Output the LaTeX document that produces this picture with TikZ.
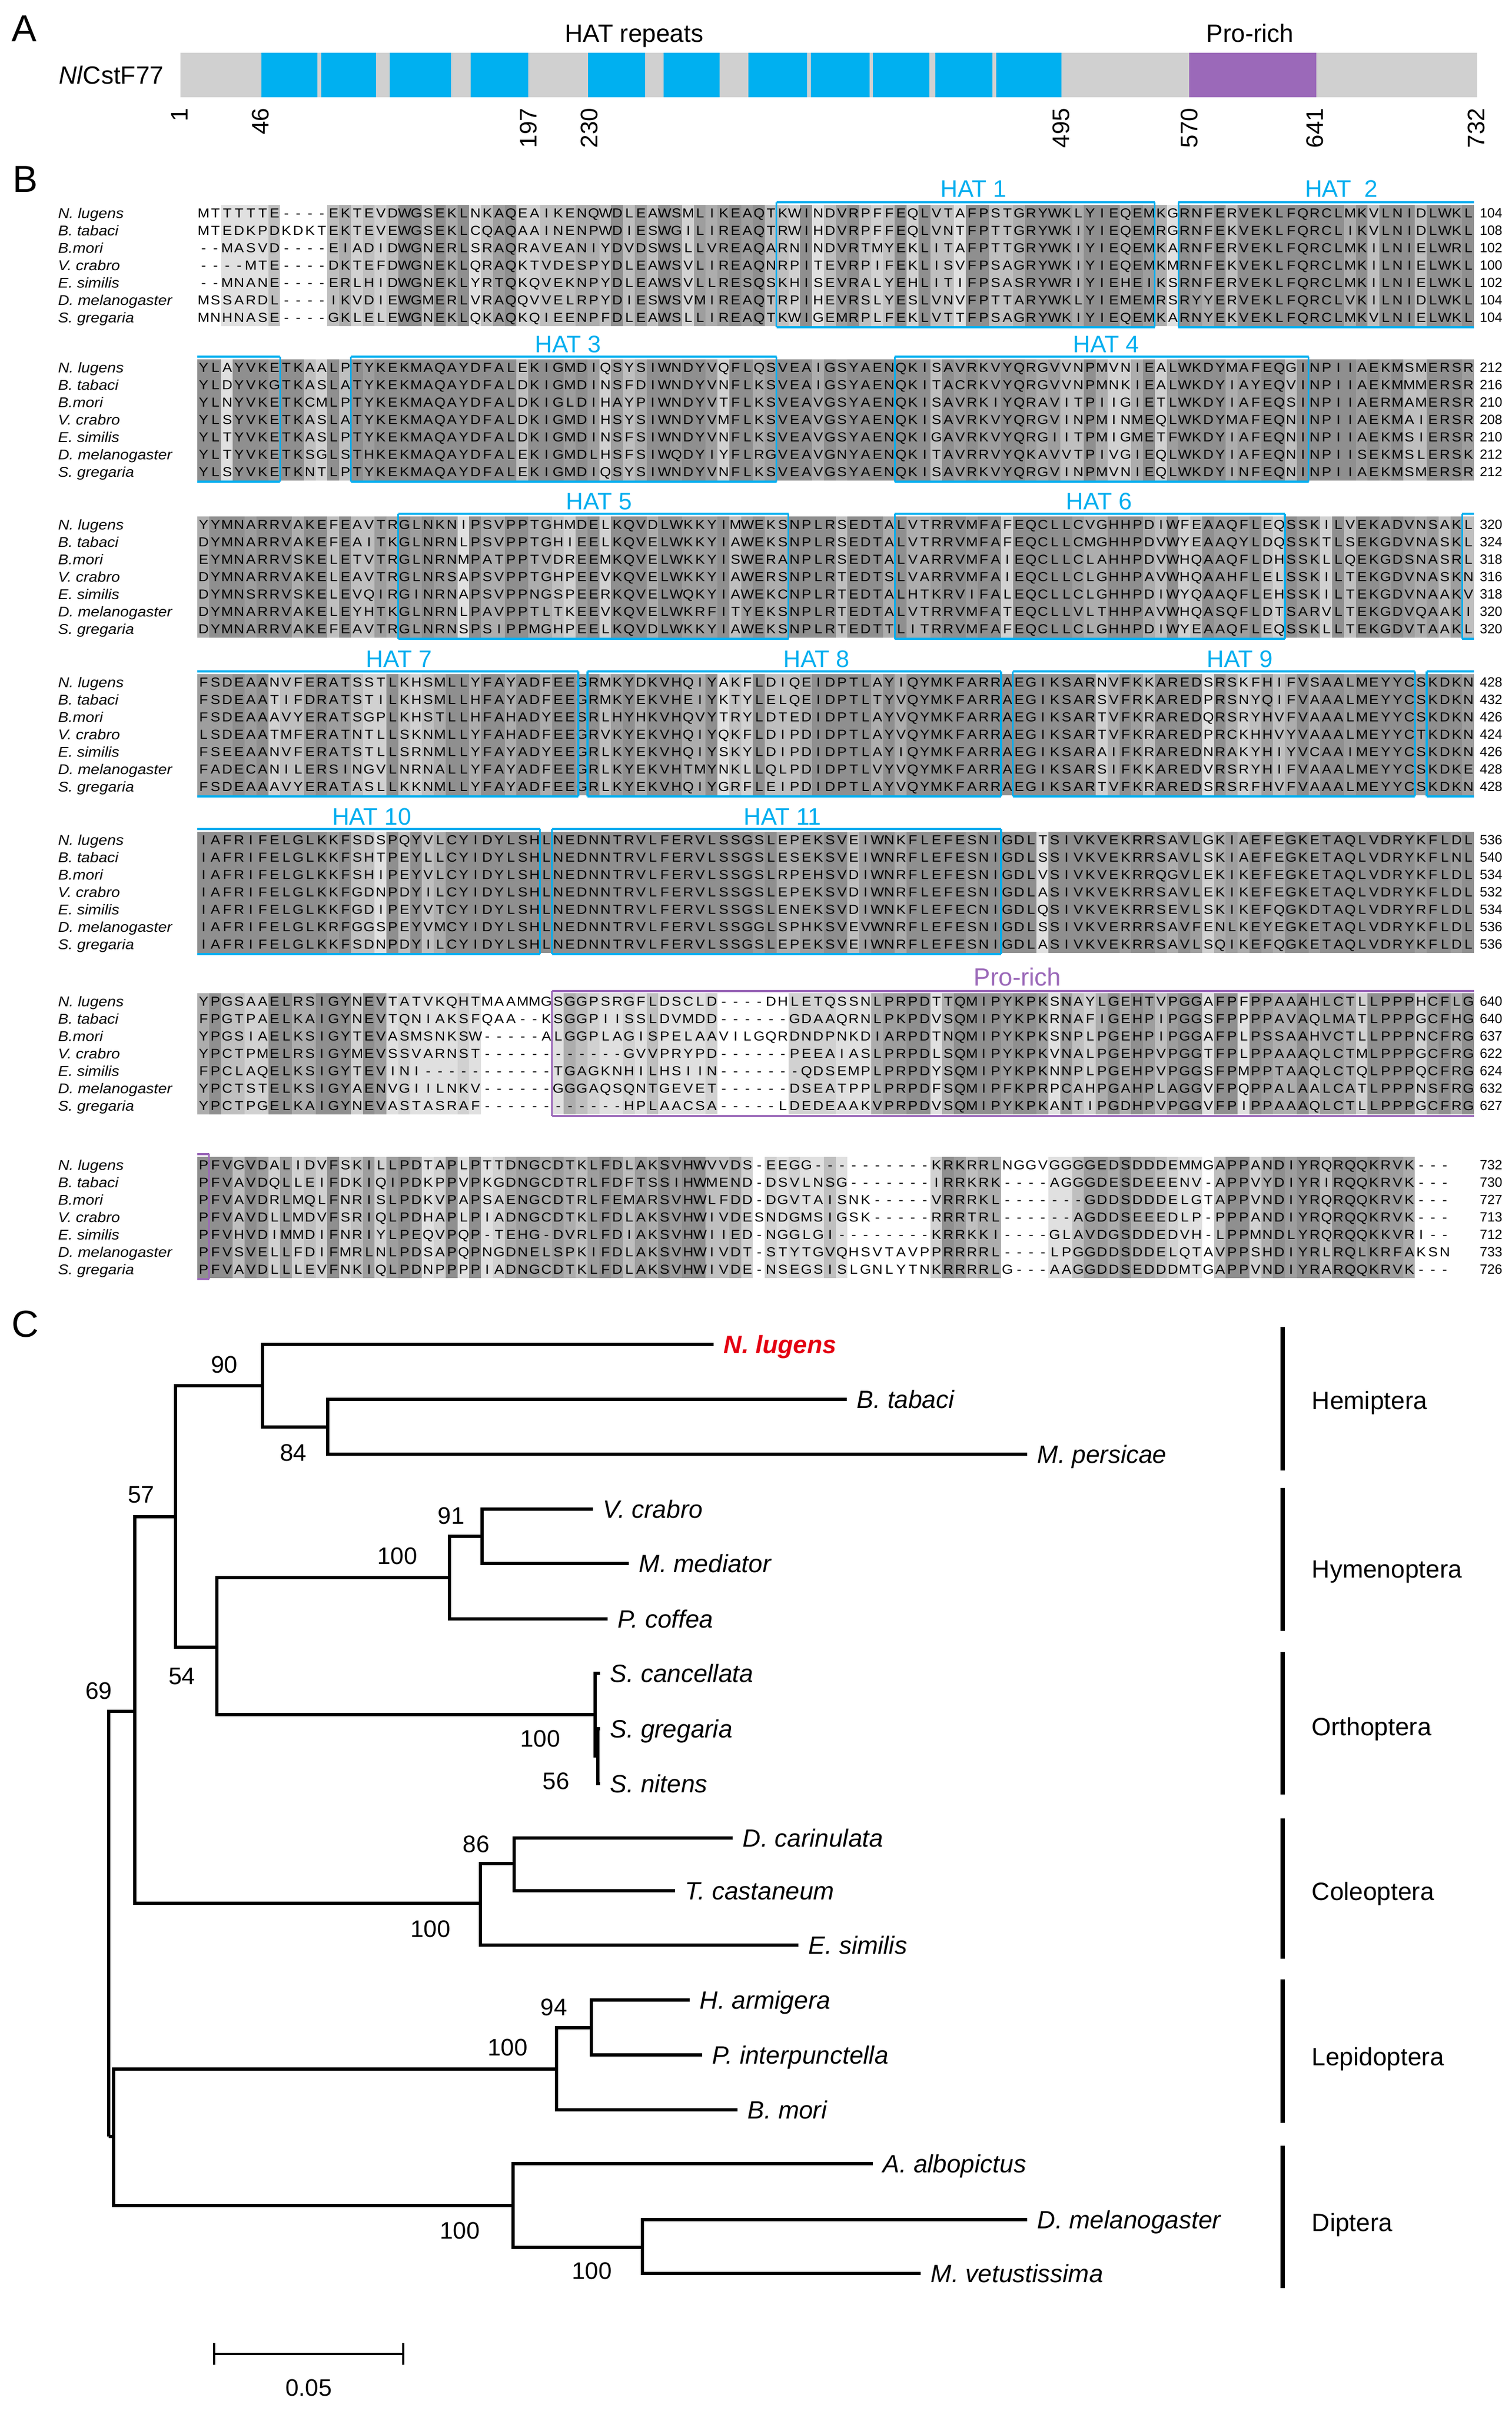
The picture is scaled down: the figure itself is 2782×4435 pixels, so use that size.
\documentclass[tikz,border=0pt]{standalone}
\usepackage{fontspec}
\setmainfont{Liberation Sans}
\newfontfamily\seqfont[FakeStretch=1.1]{Liberation Sans}
\newfontfamily\labfont[FakeStretch=1.1]{Liberation Sans}
\definecolor{hatblue}{RGB}{0,174,239}
\definecolor{barblue}{RGB}{0,176,240}
\definecolor{propurple}{RGB}{155,105,185}
\definecolor{bargrey}{RGB}{208,208,208}
\definecolor{nlred}{RGB}{228,0,18}
\definecolor{alshade7}{gray}{0.56}
\definecolor{alshade6}{gray}{0.62}
\definecolor{alshade5}{gray}{0.68}
\definecolor{alshade4}{gray}{0.75}
\definecolor{alshade3}{gray}{0.82}
\definecolor{alshade2}{gray}{0.88}

\ExplSyntaxOn
\int_new:N \g__al_len_int
\int_new:N \l__al_c_int
\int_new:N \l__al_max_int
\int_new:N \l__al_cnt_int
\int_new:N \l__al_gap_int
\tl_new:N \l__al_a_tl
\tl_new:N \l__al_b_tl
\tl_const:Nn \c__al_gap_tl { - }
\cs_new_protected:Npn \AlRow #1 #2
  {
    \int_zero:N \l__al_c_int
    \tl_map_inline:nn {#2}
      {
        \int_incr:N \l__al_c_int
        \tl_gclear_new:c { g__al_ #1 _ \int_use:N \l__al_c_int _tl }
        \tl_gset:cn { g__al_ #1 _ \int_use:N \l__al_c_int _tl } {##1}
      }
    \int_gset_eq:NN \g__al_len_int \l__al_c_int
  }
\cs_new_protected:Npn \AlShade #1
  {
    \int_step_inline:nn { \g__al_len_int }
      {
        \int_zero:N \l__al_max_int
        \int_zero:N \l__al_gap_int
        \int_step_inline:nn { 7 }
          {
            \tl_set_eq:Nc \l__al_a_tl { g__al_ ####1 _ ##1 _tl }
            \tl_if_eq:NNTF \l__al_a_tl \c__al_gap_tl
              { \int_incr:N \l__al_gap_int }
              {
                \int_zero:N \l__al_cnt_int
                \int_step_inline:nn { 7 }
                  {
                    \tl_set_eq:Nc \l__al_b_tl { g__al_ ########1 _ ##1 _tl }
                    \tl_if_eq:NNT \l__al_a_tl \l__al_b_tl
                      { \int_incr:N \l__al_cnt_int }
                  }
                \int_compare:nNnT { \l__al_cnt_int } > { \l__al_max_int }
                  { \int_set_eq:NN \l__al_max_int \l__al_cnt_int }
              }
          }
        \int_compare:nNnTF { \l__al_gap_int } > { 2 }
          { \int_zero:N \l__al_max_int }
          {
            \int_compare:nNnT { \l__al_max_int } < { 2 }
              { \int_set:Nn \l__al_max_int { 2 } }
          }
        \exp_args:NnV \AlCell { ##1 } \l__al_max_int { #1 }
      }
  }
\cs_new_protected:Npn \AlText #1
  {
    \int_step_inline:nn { \g__al_len_int }
      {
        \hbox_to_wd:nn { 5.4375pt } { \hss \tl_use:c { g__al_ #1 _ ##1 _tl } \hss }
      }
  }
\ExplSyntaxOff

\newcommand\AlCell[3]{\ifnum#2>1\relax\fill[alshade#2] ({363+(#1-1)*21.75},{#3}) rectangle +(21.95,223);\fi}
\newcommand\AlDraw[1]{%
  \AlShade{#1-15.5}%
  \foreach \rr in {1,...,7}{%
    \node[seqrow] (s#1-\rr) at (363,{#1+(\rr-1)*32+8.6}) {\AlText{\rr}};
  }%
}
\newcommand\AlLabels[2]{%
  \foreach \nm [count=\ii] in {N. lugens,B. tabaci,B.mori,V. crabro,E. similis,D. melanogaster,S. gregaria}{%
    \node[splab] (sp#1-\ii) at (106,{#1+(\ii-1)*32+9.3}) {\nm};}%
  \foreach \nn [count=\ii] in {#2}{%
    \node[numlab] (nu#1-\ii) at (2722,{#1+(\ii-1)*32+8.9}) {\nn};}%
}
\newcommand\HatBox[6]{%
  \draw[line width=0.8pt,#1] (#2,{#4+210}) -- (#3,{#4+210});
  \ifnum#5=1 \draw[line width=0.8pt,#1] (#2,{#4+210}) -- (#2,{#4-20});\fi
  \ifnum#6=1 \draw[line width=0.8pt,#1] (#3,{#4+210}) -- (#3,{#4-20});\fi
  \draw[line width=1.1pt,#1] (#2,{#4-20}) -- (#3,{#4-20});}

\tikzset{
  seqrow/.style={anchor=base west, inner sep=0pt, font=\seqfont\fontsize{6}{7}\selectfont},
  splab/.style={anchor=base west, inner sep=0pt, font=\labfont\itshape\fontsize{6.5}{7.5}\selectfont},
  numlab/.style={anchor=base west, inner sep=0pt, font=\fontsize{6.2}{7}\selectfont},
  hatlab/.style={anchor=base, inner sep=0pt, text=hatblue, font=\fontsize{11}{13}\selectfont},
  prolab/.style={anchor=base, inner sep=0pt, text=propurple, font=\fontsize{11.5}{13}\selectfont},
  panlab/.style={anchor=base west, inner sep=0pt, font=\fontsize{17.3}{20}\selectfont},
  atext/.style={inner sep=0pt, font=\fontsize{11.5}{13}\selectfont},
  posnum/.style={rotate=90, anchor=east, inner sep=0pt, font=\fontsize{11}{13}\selectfont},
  br/.style={line width=1.4pt},
  tlab/.style={anchor=base west, inner sep=0pt, font=\itshape\fontsize{11.5}{13}\selectfont},
  boot/.style={inner sep=0pt, font=\fontsize{11}{13}\selectfont},
  ordlab/.style={anchor=base west, inner sep=0pt, font=\fontsize{11.5}{13}\selectfont},
  ordbar/.style={line width=2.2pt},
}

\begin{document}
\begin{tikzpicture}[x=0.25pt,y=-0.25pt]
\fill[white] (0,0) rectangle (2782,4435);
\useasboundingbox (0,0) rectangle (2782,4435);

%% ---------------- Panel A ----------------
\node[panlab] (labA) at (21,76) {A};
\node[atext, anchor=base] (hatrep) at (1167,77) {HAT repeats};
\node[atext, anchor=base] (proA) at (2300,77) {Pro-rich};
\fill[bargrey] (332,97) rectangle (2718,179);
\foreach \a/\b in {481/584,591/692,717/830,866/972,1082/1187,1221/1324,1377/1485,1492/1600,1606/1710,1721/1826,1833/1953}
  \fill[barblue] (\a,97) rectangle (\b,179);
\fill[propurple] (2188,97) rectangle (2422,179);
\node[atext, anchor=base east] (protname) at (302,154.5) {\textit{Nl}CstF77};
\foreach \p/\t in {330/1,479/46,972/197,1084/230,1952/495,2188/570,2419/641,2716/732}
  \node[posnum] (pos\t) at (\p,198) {\t};

%% ---------------- Panel B ----------------
\node[panlab] (labB) at (23,353) {B};

% Block 1
\AlRow{1}{MTTTTTE----EKTEVDWGSEKLNKAQEAIKENQWDLEAWSMLIKEAQTKWINDVRPFFEQLVTAFPSTGRYWKLYIEQEMKGRNFERVEKLFQRCLMKVLNIDLWKL}
\AlRow{2}{MTEDKPDKDKTEKTEVEWGSEKLCQAQAAINENPWDIESWGILIREAQTRWIHDVRPFFEQLVNTFPTTGRYWKIYIEQEMRGRNFEKVEKLFQRCLIKVLNIDLWKL}
\AlRow{3}{--MASVD----EIADIDWGNERLSRAQRAVEANIYDVDSWSLLVREAQARNINDVRTMYEKLITAFPTTGRYWKIYIEQEMKARNFERVEKLFQRCLMKILNIELWRL}
\AlRow{4}{----MTE----DKTEFDWGNEKLQRAQKTVDESPYDLEAWSVLIREAQNRPITEVRPIFEKLISVFPSAGRYWKIYIEQEMKMRNFEKVEKLFQRCLMKILNIELWKL}
\AlRow{5}{--MNANE----ERLHIDWGNEKLYRTQKQVEKNPYDLEAWSVLLRESQSKHISEVRALYEHLITIFPSASRYWRIYIEHEIKSRNFERVEKLFQRCLMKILNIELWKL}
\AlRow{6}{MSSARDL----IKVDIEWGMERLVRAQQVVELRPYDIESWSVMIREAQTRPIHEVRSLYESLVNVFPTTARYWKLYIEMEMRSRYYERVEKLFQRCLVKILNIDLWKL}
\AlRow{7}{MNHNASE----GKLELEWGNEKLQKAQKQIEENPFDLEAWSLLIREAQTKWIGEMRPLFEKLVTTFPSAGRYWKIYIEQEMKARNYEKVEKLFQRCLMKVLNIELWKL}
\AlDraw{392}
\AlLabels{392}{104,108,102,100,102,104,104}
\HatBox{hatblue}{1428.75}{2124.75}{392}{1}{1}
\HatBox{hatblue}{2168.25}{2712}{392}{1}{0}
\node[hatlab] (hat1) at (1791,362) {HAT 1};
\node[hatlab] (hat2) at (2468,362) {HAT\ \ 2};

% Block 2
\AlRow{1}{YLAYVKETKAALPTYKEKMAQAYDFALEKIGMDIQSYSIWNDYVQFLQSVEAIGSYAENQKISAVRKVYQRGVVNPMVNIEALWKDYMAFEQGINPIIAEKMSMERSR}
\AlRow{2}{YLDYVKGTKASLATYKEKMAQAYDFALDKIGMDINSFDIWNDYVNFLKSVEAIGSYAENQKITACRKVYQRGVVNPMNKIEALWKDYIAYEQVINPIIAEKMMMERSR}
\AlRow{3}{YLNYVKETKCMLPTYKEKMAQAYDFALDKIGLDIHAYPIWNDYVTFLKSVEAVGSYAENQKISAVRKIYQRAVITPIIGIETLWKDYIAFEQSINPIIAERMAMERSR}
\AlRow{4}{YLSYVKETKASLATYKEKMAQAYDFALDKIGMDIHSYSIWNDYVMFLKSVEAVGSYAENQKISAVRKVYQRGVINPMINMEQLWKDYMAFEQNINPIIAEKMAIERSR}
\AlRow{5}{YLTYVKETKASLPTYKEKMAQAYDFALDKIGMDINSFSIWNDYVNFLKSVEAVGSYAENQKIGAVRKVYQRGIITPMIGMETFWKDYIAFEQNINPIIAEKMSIERSR}
\AlRow{6}{YLTYVKETKSGLSTHKEKMAQAYDFALEKIGMDLHSFSIWQDYIYFLRGVEAVGNYAENQKITAVRRVYQKAVVTPIVGIEQLWKDYIAFEQNINPIISEKMSLERSK}
\AlRow{7}{YLSYVKETKNTLPTYKEKMAQAYDFALEKIGMDIQSYSIWNDYVNFLKSVEAVGSYAENQKISAVRKVYQRGVINPMVNIEQLWKDYINFEQNINPIIAEKMSMERSR}
\AlDraw{676}
\AlLabels{676}{212,216,210,208,210,212,212}
\HatBox{hatblue}{363}{515.25}{676}{0}{1}
\HatBox{hatblue}{645.75}{1428.75}{676}{1}{1}
\HatBox{hatblue}{1646.25}{2407.5}{676}{1}{1}
\node[hatlab] (hat3) at (1045,648) {HAT 3};
\node[hatlab] (hat4) at (2035,648) {HAT 4};

% Block 3
\AlRow{1}{YYMNARRVAKEFEAVTRGLNKNIPSVPPTGHMDELKQVDLWKKYIMWEKSNPLRSEDTALVTRRVMFAFEQCLLCVGHHPDIWFEAAQFLEQSSKILVEKADVNSAKL}
\AlRow{2}{DYMNARRVAKEFEAITKGLNRNLPSVPPTGHIEELKQVELWKKYIAWEKSNPLRSEDTALVTRRVMFAFEQCLLCMGHHPDVWYEAAQYLDQSSKTLSEKGDVNASKL}
\AlRow{3}{EYMNARRVSKELETVTRGLNRNMPATPPTVDREEMKQVELWKKYISWERANPLRSEDTALVARRVMFAIEQCLLCLAHHPDVWHQAAQFLDHSSKLLQEKGDSNASRL}
\AlRow{4}{DYMNARRVAKELEAVTRGLNRSAPSVPPTGHPEEVKQVELWKKYIAWERSNPLRTEDTSLVARRVMFAIEQCLLCLGHHPAVWHQAAHFLELSSKILTEKGDVNASKN}
\AlRow{5}{DYMNSRRVSKELEVQIRGINRNAPSVPPNGSPEERKQVELWQKYIAWEKCNPLRTEDTALHTKRVIFALEQCLLCLGHHPDIWYQAAQFLEHSSKILTEKGDVNAAKV}
\AlRow{6}{DYMNARRVAKELEYHTKGLNRNLPAVPPTLTKEEVKQVELWKRFITYEKSNPLRTEDTALVTRRVMFATEQCLLVLTHHPAVWHQASQFLDTSARVLTEKGDVQAAKI}
\AlRow{7}{DYMNARRVAKEFEAVTRGLNRNSPSIPPMGHPEELKQVDLWKKYIAWEKSNPLRTEDTTLITRRVMFAFEQCLLCLGHHPDIWYEAAQFLEQSSKLLTEKGDVTAAKL}
\AlDraw{965}
\AlLabels{965}{320,324,318,316,318,320,320}
\HatBox{hatblue}{732.75}{1450.5}{965}{1}{1}
\HatBox{hatblue}{1646.25}{2364}{965}{1}{1}
\HatBox{hatblue}{2690.25}{2712}{965}{1}{0}
\node[hatlab] (hat5) at (1102,937) {HAT 5};
\node[hatlab] (hat6) at (2022,937) {HAT 6};

% Block 4
\AlRow{1}{FSDEAANVFERATSSTLKHSMLLYFAYADFEEGRMKYDKVHQIYAKFLDIQEIDPTLAYIQYMKFARRAEGIKSARNVFKKAREDSRSKFHIFVSAALMEYYCSKDKN}
\AlRow{2}{FSDEAATIFDRATSTILKHSMLLHFAYADFEEGRMKYEKVHEIYKTYLELQEIDPTLTYVQYMKFARRAEGIKSARSVFRKAREDPRSNYQIFVAAALMEYYCSKDKN}
\AlRow{3}{FSDEAAAVYERATSGPLKHSTLLHFAHADYEESRLHYHKVHQVYTRYLDTEDIDPTLAYVQYMKFARRAEGIKSARTVFKRAREDQRSRYHVFVAAALMEYYCSKDKN}
\AlRow{4}{LSDEAATMFERATNTLLSKNMLLYFAHADFEEGRVKYEKVHQIYQKFLDIPDIDPTLAYVQYMKFARRAEGIKSARTVFKRAREDPRCKHHVYVAAALMEYYCTKDKN}
\AlRow{5}{FSEEAANVFERATSTLLSRNMLLYFAYADYEEGRLKYEKVHQIYSKYLDIPDIDPTLAYIQYMKFARRAEGIKSARAIFKRAREDNRAKYHIYVCAAIMEYYCSKDKN}
\AlRow{6}{FADECANILERSINGVLNRNALLYFAYADFEEGRLKYEKVHTMYNKLLQLPDIDPTLVYVQYMKFARRAEGIKSARSIFKKAREDVRSRYHIFVAAALMEYYCSKDKE}
\AlRow{7}{FSDEAAAVYERATASLLKKNMLLYFAYADFEEGRLKYEKVHQIYGRFLEIPDIDPTLAYVQYMKFARRAEGIKSARTVFKRAREDSRSRFHVFVAAALMEYYCSKDKN}
\AlDraw{1255}
\AlLabels{1255}{428,432,426,424,426,428,428}
\HatBox{hatblue}{363}{1064}{1255}{0}{1}
\HatBox{hatblue}{1081}{1842}{1255}{1}{1}
\HatBox{hatblue}{1863.75}{2603.25}{1255}{1}{1}
\HatBox{hatblue}{2625}{2712}{1255}{1}{0}
\node[hatlab] (hat7) at (734,1227) {HAT 7};
\node[hatlab] (hat8) at (1502,1227) {HAT 8};
\node[hatlab] (hat9) at (2281,1227) {HAT 9};

% Block 5
\AlRow{1}{IAFRIFELGLKKFSDSPQYVLCYIDYLSHLNEDNNTRVLFERVLSSGSLEPEKSVEIWNKFLEFESNIGDLTSIVKVEKRRSAVLGKIAEFEGKETAQLVDRYKFLDL}
\AlRow{2}{IAFRIFELGLKKFSHTPEYLLCYIDYLSHLNEDNNTRVLFERVLSSGSLESEKSVEIWNRFLEFESNIGDLSSIVKVEKRRSAVLSKIAEFEGKETAQLVDRYKFLNL}
\AlRow{3}{IAFRIFELGLKKFSHIPEYVLCYIDYLSHLNEDNNTRVLFERVLSSGSLRPEHSVDIWNRFLEFESNIGDLVSIVKVEKRRQGVLEKIKEFEGKETAQLVDRYKFLDL}
\AlRow{4}{IAFRIFELGLKKFGDNPDYILCYIDYLSHLNEDNNTRVLFERVLSSGSLEPEKSVDIWNRFLEFESNIGDLASIVKVEKRRSAVLEKIKEFEGKETAQLVDRYKFLDL}
\AlRow{5}{IAFRIFELGLKKFGDIPEYVTCYIDYLSHLNEDNNTRVLFERVLSSGSLENEKSVDIWNKFLEFECNIGDLQSIVKVEKRRSEVLSKIKEFQGKDTAQLVDRYRFLDL}
\AlRow{6}{IAFRIFELGLKRFGGSPEYVMCYIDYLSHLNEDNNTRVLFERVLSSGGLSPHKSVEVWNRFLEFESNIGDLSSIVKVERRRSAVFENLKEYEGKETAQLVDRYKFLDL}
\AlRow{7}{IAFRIFELGLKKFSDNPDYILCYIDYLSHLNEDNNTRVLFERVLSSGSLEPEKSVEIWNRFLEFESNIGDLASIVKVEKRRSAVLSQIKEFQGKETAQLVDRYKFLDL}
\AlDraw{1545}
\AlLabels{1545}{536,540,534,532,534,536,536}
\HatBox{hatblue}{363}{993.75}{1545}{0}{1}
\HatBox{hatblue}{1015.5}{1842}{1545}{1}{1}
\node[hatlab] (hat10) at (684,1517) {HAT 10};
\node[hatlab] (hat11) at (1440,1517) {HAT 11};

% Block 6
\AlRow{1}{YPGSAAELRSIGYNEVTATVKQHTMAAMMGSGGPSRGFLDSCLD----DHLETQSSNLPRPDTTQMIPYKPKSNAYLGEHTVPGGAFPFPPAAAHLCTLLPPPHCFLG}
\AlRow{2}{FPGTPAELKAIGYNEVTQNIAKSFQAA--KSGGPIISSLDVMDD------GDAAQRNLPKPDVSQMIPYKPKRNAFIGEHPIPGGSFPPPPAVAQLMATLPPPGCFHG}
\AlRow{3}{YPGSIAELKSIGYTEVASMSNKSW-----ALGGPLAGISPELAAVILGQRDNDPNKDIARPDTNQMIPYKPKSNPLPGEHPIPGGAFPLPSSAAHVCTLLPPPNCFRG}
\AlRow{4}{YPCTPMELRSIGYMEVSSVARNST------------GVVPRYPD------PEEAIASLPRPDLSQMIPYKPKVNALPGEHPVPGGTFPLPPAAAQLCTMLPPPGCFRG}
\AlRow{5}{FPCLAQELKSIGYTEVINI-----------TGAGKNHILHSIIN-------QDSEMPLPRPDYSQMIPYKPKNNPLPGEHPVPGGSFPMPPTAAQLCTQLPPPQCFRG}
\AlRow{6}{YPCTSTELKSIGYAENVGIILNKV------GGGAQSQNTGEVET------DSEATPPLPRPDFSQMIPFKPRPCAHPGAHPLAGGVFPQPPALAALCATLPPPNSFRG}
\AlRow{7}{YPCTPGELKAIGYNEVASTASRAF------------HPLAACSA-----LDEDEAAKVPRPDVSQMIPYKPKANTIPGDHPVPGGVFPIPPAAAQLCTLLPPPGCFRG}
\AlDraw{1842}
\AlLabels{1842}{640,640,637,622,624,632,627}
\HatBox{propurple}{1015.5}{2712}{1843}{1}{0}
\node[prolab] (pro6) at (1872,1813) {Pro-rich};

% Block 7
\AlRow{1}{PFVGVDALIDVFSKILLPDTAPLPTTDNGCDTKLFDLAKSVHWVVDS-EEGG----------KRKRRLNGGVGGGGEDSDDDEMMGAPPANDIYRQRQQKRVK---}
\AlRow{2}{PFVAVDQLLEIFDKIQIPDKPPVPKGDNGCDTRLFDFTSSIHWMEND-DSVLNSG-------IRRKRK----AGGGDESDEEENV-APPVYDIYRIRQQKRVK---}
\AlRow{3}{PFVAVDRLMQLFNRISLPDKVPAPSAENGCDTRLFEMARSVHWLFDD-DGVTAISNK-----VRRRKL-------GDDSDDDELGTAPPVNDIYRQRQQKRVK---}
\AlRow{4}{PFVAVDLLMDVFSRIQLPDHAPLPIADNGCDTKLFDLAKSVHWIVDESNDGMSIGSK-----RRRTRL------AGDDSEEEDLP-PPPANDIYRQRQQKRVK---}
\AlRow{5}{PFVHVDIMMDIFNRIYLPEQVPQP-TEHG-DVRLFDIAKSVHWIIED-NGGLGI--------KRRKKI----GLAVDGSDDEDVH-LPPMNDLYRQRQQKKVRI--}
\AlRow{6}{PFVSVELLFDIFMRLNLPDSAPQPNGDNELSPKIFDLAKSVHWIVDT-STYTGVQHSVTAVPPRRRRL----LPGGDDSDDELQTAVPPSHDIYRLRQLKRFAKSN}
\AlRow{7}{PFVAVDLLLEVFNKIQLPDNPPPPIADNGCDTKLFDLAKSVHWIVDE-NSEGSISLGNLYTNKRRRRLG---AAGGDDSEDDDMTGAPPVNDIYRARQQKRVK---}
\AlDraw{2143}
\AlLabels{2143}{732,730,727,713,712,733,726}
\HatBox{propurple}{363}{384.75}{2143}{0}{1}

%% ---------------- Panel C ----------------
\node[panlab] (labC) at (21,2459) {C};

% leaves (branch ends)
\coordinate (nlug) at (1313,2473);
\coordinate (btab) at (1558,2574);
\coordinate (mper) at (1890,2675);
\coordinate (vcra) at (1091,2776);
\coordinate (mmed) at (1157,2876);
\coordinate (pcof) at (1118,2978);
\coordinate (scan) at (1104,3078);
\coordinate (sgre) at (1104,3180);
\coordinate (snit) at (1104,3281);
\coordinate (dcar) at (1348,3381);
\coordinate (tcas) at (1242,3478);
\coordinate (esim) at (1469,3578);
\coordinate (harm) at (1269,3679);
\coordinate (pint) at (1292,3780);
\coordinate (bmor) at (1357,3881);
\coordinate (aalb) at (1606,3980);
\coordinate (dmel) at (1890,4083);
\coordinate (mvet) at (1694,4182);
% internal nodes
\coordinate (n90) at (483,2549);
\coordinate (nBM) at (603,2625);
\coordinate (n57) at (323,2790);
\coordinate (n54) at (399,3030);
\coordinate (nHym) at (827,2902);
\coordinate (n91) at (887,2826);
\coordinate (nOrth) at (1095,3154);
\coordinate (n56) at (1100,3230);
\coordinate (n69) at (248,3148);
\coordinate (nCol) at (884,3501);
\coordinate (n86) at (946,3428);
\coordinate (nR0) at (200,3930);
\coordinate (nR1) at (209,3930);
\coordinate (nLep) at (1024,3806);
\coordinate (n94) at (1088,3730);
\coordinate (nDip) at (944,4057);
\coordinate (n100b) at (1182,4134);

\draw[br] (n90) |- (nlug);
\draw[br] (n90) |- (nBM);
\draw[br] (nBM) |- (btab);
\draw[br] (nBM) |- (mper);
\draw[br] (n57) |- (n90);
\draw[br] (n57) |- (n54);
\draw[br] (n54) |- (nHym);
\draw[br] (n54) |- (nOrth);
\draw[br] (nHym) |- (n91);
\draw[br] (nHym) |- (pcof);
\draw[br] (n91) |- (vcra);
\draw[br] (n91) |- (mmed);
\draw[br] (nOrth) |- (scan);
\draw[br] (nOrth) |- (n56);
\draw[br] (n56) |- (sgre);
\draw[br] (n56) |- (snit);
\draw[br] (n69) |- (n57);
\draw[br] (n69) |- (nCol);
\draw[br] (nCol) |- (n86);
\draw[br] (nCol) |- (esim);
\draw[br] (n86) |- (dcar);
\draw[br] (n86) |- (tcas);
\draw[br] (nR0) |- (n69);
\draw[br] (nR0) |- (nR1);
\draw[br] (nR1) |- (nLep);
\draw[br] (nR1) |- (nDip);
\draw[br] (nLep) |- (n94);
\draw[br] (nLep) |- (bmor);
\draw[br] (n94) |- (harm);
\draw[br] (n94) |- (pint);
\draw[br] (nDip) |- (aalb);
\draw[br] (nDip) |- (n100b);
\draw[br] (n100b) |- (dmel);
\draw[br] (n100b) |- (mvet);

% leaf labels
\node[tlab, text=nlred, font=\bfseries\itshape\fontsize{11.5}{13}\selectfont] (lnlug) at ([xshift=4.5pt,yshift=-4.1pt]nlug) {N. lugens};
\foreach \c/\t in {btab/B. tabaci,mper/M. persicae,vcra/V. crabro,mmed/M. mediator,pcof/P. coffea,scan/S. cancellata,sgre/S. gregaria,snit/S. nitens,dcar/D. carinulata,tcas/T. castaneum,esim/E. similis,harm/H. armigera,pint/P. interpunctella,bmor/B. mori,aalb/A. albopictus,dmel/D. melanogaster,mvet/M. vetustissima}
  \node[tlab] (l\c) at ([xshift=4.5pt,yshift=-4.1pt]\c) {\t};

% bootstrap values
\node[boot] (b90) at (413,2510) {90};
\node[boot] (b84) at (540,2672) {84};
\node[boot] (b57) at (260,2750) {57};
\node[boot] (b91) at (830,2788) {91};
\node[boot] (b100h) at (731,2862) {100};
\node[boot] (b54) at (335,3084) {54};
\node[boot] (b69) at (182,3110) {69};
\node[boot] (b100o) at (994,3198) {100};
\node[boot] (b56) at (1023,3276) {56};
\node[boot] (b86) at (876,3392) {86};
\node[boot] (b100c) at (792,3548) {100};
\node[boot] (b94) at (1019,3692) {94};
\node[boot] (b100l) at (934,3766) {100};
\node[boot] (b100d) at (846,4103) {100};
\node[boot] (b100m) at (1089,4177) {100};

% order bars and labels
\draw[ordbar] (2360,2441) -- (2360,2705);
\draw[ordbar] (2360,2737) -- (2360,3000);
\draw[ordbar] (2360,3039) -- (2360,3301);
\draw[ordbar] (2360,3345) -- (2360,3603);
\draw[ordbar] (2360,3641) -- (2360,3905);
\draw[ordbar] (2360,3947) -- (2360,4209);
\node[ordlab] (oHem) at (2413,2592) {Hemiptera};
\node[ordlab] (oHym) at (2413,2902) {Hymenoptera};
\node[ordlab] (oOrt) at (2413,3192) {Orthoptera};
\node[ordlab] (oCol) at (2413,3495) {Coleoptera};
\node[ordlab] (oLep) at (2413,3799) {Lepidoptera};
\node[ordlab] (oDip) at (2413,4104) {Diptera};

% scale bar
\coordinate (sbL) at (394,4330);
\coordinate (sbR) at (742,4330);
\draw[line width=1pt] (sbL) -- (sbR);
\draw[line width=1pt] ([yshift=5pt]sbL) -- ([yshift=-5pt]sbL);
\draw[line width=1pt] ([yshift=5pt]sbR) -- ([yshift=-5pt]sbR);
\node[boot] (sblab) at (568,4392) {0.05};
\end{tikzpicture}
\end{document}
